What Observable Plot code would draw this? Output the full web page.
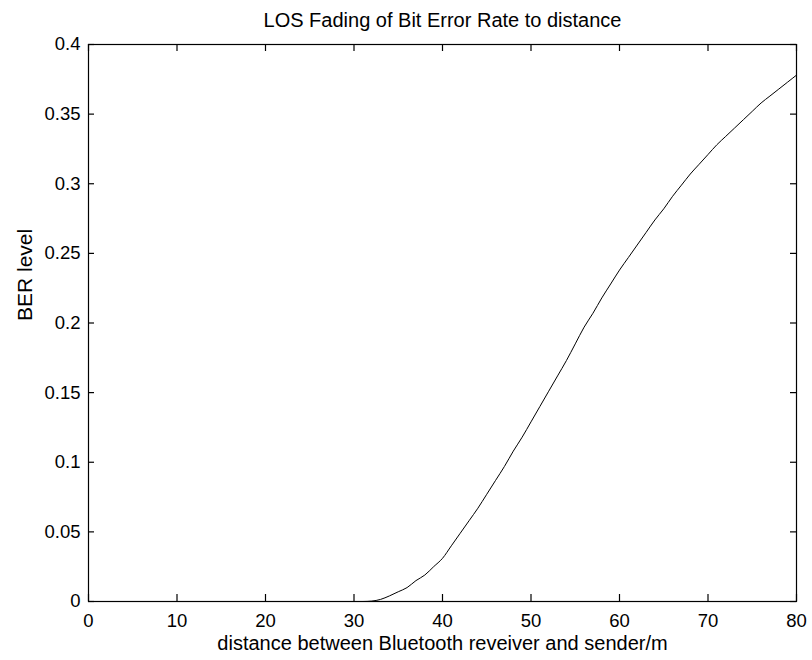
<!DOCTYPE html>
<html>
<head>
<meta charset="utf-8">
<script src="https://cdn.jsdelivr.net/npm/d3@7"></script>
<script src="https://cdn.jsdelivr.net/npm/@observablehq/plot@0.6"></script>
<style>
  html, body { margin: 0; padding: 0; background: #fff; }
  #chart { width: 812px; height: 660px; }
</style>
</head>
<body>
<div id="chart"></div>
<script>
const titleText = "LOS Fading of Bit Error Rate to distance";
const xLabel = "distance between Bluetooth reveiver and sender/m";
const yLabel = "BER level";
const xTicks = [0, 10, 20, 30, 40, 50, 60, 70, 80];
const yTicks = [0, 0.05, 0.1, 0.15, 0.2, 0.25, 0.3, 0.35, 0.4];
const yTickLabels = ["0", "0.05", "0.1", "0.15", "0.2", "0.25", "0.3", "0.35", "0.4"];

const distance = [0, 10, 20, 30, 31, 32, 33, 34, 35, 36, 37, 38, 39, 40, 41, 42, 43, 44, 45, 46, 47, 48, 49, 50,
                  51, 52, 53, 54, 55, 56, 57, 58, 59, 60, 61, 62, 63, 64, 65, 66, 67, 68, 69, 70,
                  71, 72, 73, 74, 75, 76, 77, 78, 79, 80];
const ber = [0, 0, 0, 0, 0, 0.0003, 0.0015, 0.004, 0.007, 0.010, 0.015, 0.019, 0.025, 0.031, 0.040, 0.049, 0.058, 0.067, 0.077, 0.087, 0.097, 0.108, 0.118, 0.129,
             0.140, 0.151, 0.162, 0.173, 0.185, 0.197, 0.207, 0.218, 0.228, 0.238, 0.247, 0.256, 0.265, 0.274, 0.282, 0.291, 0.299, 0.307, 0.314, 0.321,
             0.328, 0.334, 0.340, 0.346, 0.352, 0.358, 0.363, 0.368, 0.373, 0.378];

const data = distance.map((d, i) => ({d, v: ber[i]}));
const font = "'Liberation Sans', Arial, sans-serif";

const W = 812, H = 660, mL = 88, mR = 16, mT = 44, mB = 59;
const fw = W - mL - mR, fh = H - mT - mB;
const xDom = [0, 80], yDom = [0, 0.4];
const xTickPx = 7, yTickPx = 6;

const chart = Plot.plot({
  width: W,
  height: H,
  marginLeft: mL,
  marginRight: mR,
  marginTop: mT,
  marginBottom: mB,
  style: {fontFamily: font, fontSize: "18px", color: "#000", background: "#fff"},
  x: {domain: xDom},
  y: {domain: yDom},
  marks: [
    Plot.frame({stroke: "#000", strokeWidth: 1.2}),
    Plot.axisX({anchor: "bottom", ticks: xTicks, tickSize: 0, tickPadding: 12, label: null, fontSize: 18.5}),
    Plot.axisY({anchor: "left", ticks: yTicks, tickSize: 0, tickPadding: 8, label: null, fontSize: 18.5,
      tickFormat: (t) => yTickLabels[yTicks.findIndex(v => Math.abs(v - t) < 1e-9)]}),
    Plot.tickX(xTicks, {x: d => d, stroke: "#000", strokeWidth: 1.2, insetTop: fh - xTickPx}),
    Plot.tickX(xTicks, {x: d => d, stroke: "#000", strokeWidth: 1.2, insetBottom: fh - xTickPx}),
    Plot.tickY(yTicks, {y: d => d, stroke: "#000", strokeWidth: 1.2, insetRight: fw - yTickPx}),
    Plot.tickY(yTicks, {y: d => d, stroke: "#000", strokeWidth: 1.2, insetLeft: fw - yTickPx}),
    Plot.line(data, {x: "d", y: "v", stroke: "#000", strokeWidth: 1, curve: "monotone-x"}),
    Plot.text([titleText], {frameAnchor: "top", dy: -32, text: d => d, fontSize: 20, fill: "#000"}),
    Plot.text([xLabel], {frameAnchor: "bottom", dy: 48, text: d => d, fontSize: 20, fill: "#000"}),
    Plot.text([yLabel], {frameAnchor: "left", dx: -63, dy: -2, rotate: -90, text: d => d, fontSize: 21, fill: "#000"})
  ]
});
document.getElementById("chart").appendChild(chart);
</script>
</body>
</html>
